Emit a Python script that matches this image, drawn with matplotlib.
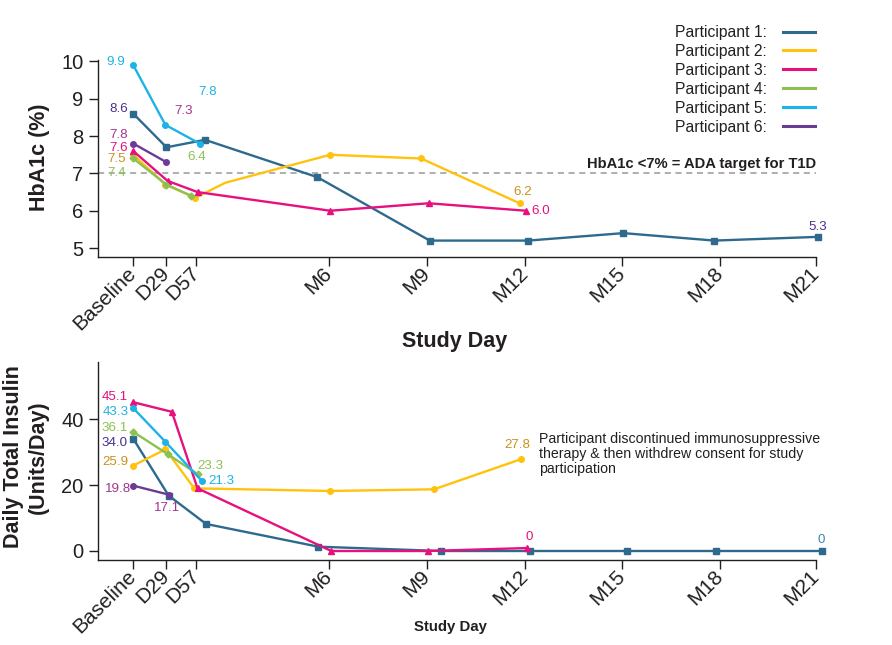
import matplotlib
matplotlib.use("Agg")
import matplotlib.pyplot as plt
from matplotlib.lines import Line2D

plt.rcParams['font.family'] = ['Liberation Sans', 'DejaVu Sans']

# visit schedule (study day of each tick)
visit_days = [0, 31, 59, 183, 274, 366, 457, 548, 638]
visit_labels = ['Baseline', 'D29', 'D57', 'M6', 'M9', 'M12', 'M15', 'M18', 'M21']

participants = ['Participant 1:', 'Participant 2:', 'Participant 3:',
                'Participant 4:', 'Participant 5:', 'Participant 6:']
line_colors = ['#2D6A8E', '#FFC20E', '#E6117F', '#8CC152', '#1DB3E6', '#6B3C96']
label_colors = ['#4B2F8F', '#C9921B', '#E6117F', '#8CC152', '#1DB3E6', '#A3358F']
markers = ['s', 'o', '^', 'D', 'o', 'o']
marker_sizes = [5, 4, 5, 3.5, 4, 4]

# HbA1c (%)
hba1c_days = [
    [0, 31, 67, 172, 277, 369, 458, 543, 640],
    [0, 30, 58, 86, 184, 269, 361],
    [0, 32, 60, 184, 276, 367],
    [0, 31, 54],
    [0, 30, 62],
    [0, 31],
]
hba1c = [
    [8.6, 7.7, 7.9, 6.9, 5.2, 5.2, 5.4, 5.2, 5.3],
    [7.5, 6.7, 6.35, 6.75, 7.5, 7.4, 6.2],
    [7.6, 6.8, 6.5, 6.0, 6.2, 6.0],
    [7.4, 6.7, 6.4],
    [9.9, 8.3, 7.8],
    [7.8, 7.3],
]
hba1c_no_marker = {1: [3]}  # unmarked vertex on participant 2's line

# Daily total insulin (Units/Day)
insulin_days = [
    [0, 33, 68, 173, 288, 371, 461, 545, 644],
    [0, 30, 57, 184, 281, 362],
    [0, 36, 60, 185, 275, 368],
    [0, 32, 60],
    [0, 30, 64],
    [0, 33],
]
insulin = [
    [34.0, 16.8, 8.2, 1.3, 0, 0, 0, 0, 0],
    [25.9, 30.8, 19.0, 18.2, 18.7, 27.8],
    [45.1, 42.2, 19.0, 0, 0, 0.9],
    [36.1, 29.4, 23.3],
    [43.3, 33.1, 21.3],
    [19.8, 17.1],
]

ada_target = 7

# value labels: (participant, point, text, dx px, dy px, ha, colour override)
hba1c_labels = [
    (4, 0, '9.9', -8, 3, 'right', None),
    (0, 0, '8.6', -5, 5, 'right', None),
    (5, 0, '7.8', -5, 9, 'right', None),
    (2, 0, '7.6', -5, 3.5, 'right', None),
    (1, 0, '7.5', -7, -4.5, 'right', None),
    (3, 0, '7.4', -7, -15, 'right', None),
    (5, 1, '7.3', 17, 51, 'center', None),
    (4, 2, '7.8', 8, 52, 'center', None),
    (3, 2, '6.4', 6, 39, 'center', None),
    (1, 6, '6.2', 3, 11, 'center', None),
    (2, 5, '6.0', 5, 0, 'left', None),
    (0, 8, '5.3', 0, 10, 'center', None),
]
insulin_labels = [
    (2, 0, '45.1', -5, 5, 'right', None),
    (4, 0, '43.3', -4, -4, 'right', None),
    (3, 0, '36.1', -6, 4, 'right', None),
    (0, 0, '34.0', -6, -4, 'right', None),
    (1, 0, '25.9', -5, 4, 'right', None),
    (5, 0, '19.8', -2, -3, 'right', None),
    (5, 1, '17.1', -2, -13, 'center', None),
    (3, 2, '23.3', 13, 8, 'center', None),
    (4, 2, '21.3', 7, 0, 'left', None),
    (1, 5, '27.8', -3, 14, 'center', None),
    (2, 5, '0', 2, 11, 'center', None),
    (0, 8, '0', -1, 11, 'center', '#3E86B0'),
]

ink = '#231F20'
W, H = 892, 645


def fig_box(left, top, right, bottom):
    return [left / W, 1 - bottom / H, (right - left) / W, (bottom - top) / H]


def style_axis(ax):
    for s in ['top', 'right']:
        ax.spines[s].set_visible(False)
    for s in ['left', 'bottom']:
        ax.spines[s].set_color(ink)
        ax.spines[s].set_linewidth(1.0)
    ax.set_xlim(-33, 638)
    ax.set_xticks(visit_days)
    ax.set_xticklabels(visit_labels, rotation=45, ha='right', va='center',
                       rotation_mode='anchor', fontsize=15, color=ink)
    ax.tick_params(length=6.5, width=1.0, color=ink, pad=4, labelsize=14.5, labelcolor=ink)
    ax.tick_params(axis='x', labelsize=15, pad=3)


def draw(ax, days, values, labels, skip=None):
    skip = skip or {}
    for i in range(len(days)):
        keep = [k for k in range(len(days[i])) if k not in skip.get(i, [])]
        ax.plot(days[i], values[i], color=line_colors[i], lw=1.7,
                marker=markers[i], ms=marker_sizes[i], markevery=keep,
                clip_on=False, zorder=3)
    for p, k, txt, dx, dy, ha, col in labels:
        ax.annotate(txt, (days[p][k], values[p][k]), xytext=(dx * 0.72, dy * 0.72),
                    textcoords='offset points', ha=ha, va='center', fontsize=9.6,
                    color=col or label_colors[p], annotation_clip=False)


fig = plt.figure(figsize=(8.92, 6.45), dpi=100)
ax1 = fig.add_axes(fig_box(98, 60, 816, 257))
ax2 = fig.add_axes(fig_box(98, 362, 816, 560))

# top panel: HbA1c
style_axis(ax1)
ax1.set_ylim(4.76, 10.04)
ax1.set_yticks([5, 6, 7, 8, 9, 10])
ax1.axhline(ada_target, color='#999999', lw=1.1, ls=(0, (4, 3)), zorder=1)
ax1.annotate('HbA1c <7% = ADA target for T1D', (1.0, ada_target),
             xycoords=('axes fraction', 'data'), xytext=(0, 7), textcoords='offset points',
             ha='right', va='center', fontsize=10.6, fontweight='bold', color=ink)
draw(ax1, hba1c_days, hba1c, hba1c_labels, hba1c_no_marker)

# bottom panel: insulin
style_axis(ax2)
ax2.set_ylim(-2.73, 57.3)
ax2.set_yticks([0, 20, 40])
draw(ax2, insulin_days, insulin, insulin_labels)
ax2.annotate('Participant discontinued immunosuppressive\n'
             'therapy & then withdrew consent for study\nparticipation',
             (insulin_days[1][-1], insulin[1][-1]), xytext=(13, 20), textcoords='offset points',
             ha='left', va='top', fontsize=10.2, linespacing=1.1, color=ink)

# axis titles
fig.text(39.5 / W, 1 - 157 / H, 'HbA1c (%)', rotation=90, ha='center', va='center',
         fontsize=15.5, fontweight='bold', color=ink)
fig.text(26 / W, 1 - 457 / H, 'Daily Total Insulin\n(Units/Day)', rotation=90,
         ha='center', va='center', fontsize=15.5, fontweight='bold', color=ink)
fig.text(455 / W, 1 - 341 / H, 'Study Day', ha='center', va='center',
         fontsize=15.5, fontweight='bold', color=ink)
fig.text(451 / W, 1 - 627 / H, 'Study Day', ha='center', va='center',
         fontsize=10.8, fontweight='bold', color=ink)

handles = [Line2D([], [], color=c, lw=2.2) for c in line_colors]
fig.legend(handles, participants, loc='upper left', bbox_to_anchor=(675 / W, 1 - 25 / H),
           frameon=False, markerfirst=False, handlelength=2.0, handletextpad=1.05,
           labelspacing=0.25, borderpad=0, borderaxespad=0, fontsize=11.3, labelcolor=ink)

fig.savefig('out.png', dpi=100)
